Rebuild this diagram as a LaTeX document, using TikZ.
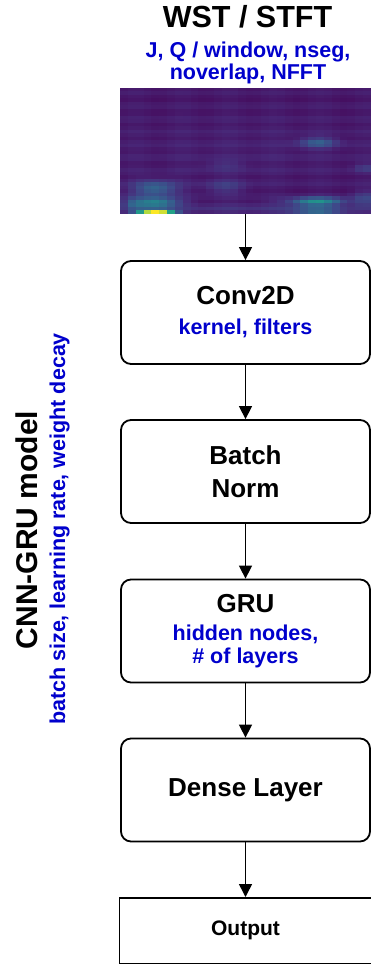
\documentclass[tikz,border=0pt]{standalone}
\usepackage{fontspec}
\setmainfont{Liberation Sans}
\usetikzlibrary{arrows.meta}
\definecolor{parblue}{RGB}{0,0,204}

% one Gaussian term of the spectrogram intensity, evaluated at (\cx,\cy)
\newcommand\specblob[5]{+#5*exp(max(-9,-((\cx-#1)/#3)*((\cx-#1)/#3)-((\cy-#2)/#4)*((\cy-#2)/#4)))}

% viridis colour map: sets colour "cellc" for a value in [0,1]
\newcommand\setviridis[1]{%
  \pgfmathsetmacro\vt{min(max(#1,0),0.999)*8}%
  \pgfmathtruncatemacro\vi{\vt}%
  \pgfmathtruncatemacro\vj{\vi+1}%
  \pgfmathsetmacro\vf{\vt-\vi}%
  \pgfmathsetmacro\ra{{68,72,62,49,38,31,53,110,253}[\vi]}%
  \pgfmathsetmacro\rb{{68,72,62,49,38,31,53,110,253}[\vj]}%
  \pgfmathsetmacro\ga{{1,40,73,104,130,158,183,206,231}[\vi]}%
  \pgfmathsetmacro\gbb{{1,40,73,104,130,158,183,206,231}[\vj]}%
  \pgfmathsetmacro\ba{{84,120,137,142,142,137,121,88,37}[\vi]}%
  \pgfmathsetmacro\bb{{84,120,137,142,142,137,121,88,37}[\vj]}%
  \pgfmathsetmacro\vr{(\ra*(1-\vf)+\rb*\vf)/255}%
  \pgfmathsetmacro\vg{(\ga*(1-\vf)+\gbb*\vf)/255}%
  \pgfmathsetmacro\vb{(\ba*(1-\vf)+\bb*\vf)/255}%
  \definecolor{cellc}{rgb}{\vr,\vg,\vb}%
}

\begin{document}
\begin{tikzpicture}[x=1pt,y=-1pt,
  layerbox/.style={draw, line width=1.8pt, rounded corners=10pt, inner sep=0pt,
    minimum width=249pt, minimum height=103pt, align=center},
  outbox/.style={draw, line width=1.5pt, inner sep=0pt,
    minimum width=252pt, minimum height=65.5pt},
  flow/.style={line width=1.5pt, -{Triangle[width=13pt,length=13pt]}},
  bigfont/.style={font=\bfseries\fontsize{26}{30}\selectfont},
  parfont/.style={font=\bfseries\fontsize{21.5}{23}\selectfont},
]
\useasboundingbox (0,0) rectangle (371,965);

% spectrogram image (viridis heat map)
\foreach \i in {0,...,31}{
  \foreach \j in {0,...,35}{
    \pgfmathsetmacro\cx{120+(\i+0.5)*251/32}
    \pgfmathsetmacro\cy{88+(\j+0.5)*3.5}
    \pgfmathsetmacro\val{0.07+0.02*sin(\j*97)+0.012*sin(\i*61)
      \specblob{148}{212}{12}{2.2}{0.72}
      \specblob{164}{212}{12}{2.2}{0.72}
      \specblob{155}{203}{22}{5}{0.45}
      \specblob{155}{189}{22}{8}{0.3}
      \specblob{133}{205}{10}{7}{0.15}
      \specblob{317}{202}{26}{4}{0.5}
      \specblob{317}{211}{26}{3}{0.3}
      \specblob{318}{143}{18}{5}{0.24}
      \specblob{225}{187}{20}{7}{0.12}
      \specblob{225}{166}{20}{5}{0.07}
      \specblob{365}{168}{10}{4}{0.12}
      \specblob{365}{200}{12}{8}{0.15}
      \specblob{245}{208}{120}{5}{0.08}
      \specblob{245}{150}{150}{40}{0.03}}
    \setviridis{\val}
    \fill[cellc] ({120+\i*251/32},{88+\j*3.5}) rectangle ({120+(\i+1)*251/32+0.4},{88+(\j+1)*3.5+0.4});
  }
}
\node[minimum width=251pt, minimum height=126pt, inner sep=0pt] (spec) at (245.5,151) {};

% input transform title and its parameters
\node[anchor=base, font=\bfseries\fontsize{30.5}{34}\selectfont] (title) at (247.5,28) {WST / STFT};
\node[anchor=base, parfont, text=parblue] (tpar1) at (248,58) {J, Q / window, nseg,};
\node[anchor=base, parfont, text=parblue] (tpar2) at (248,80) {noverlap, NFFT};

% model label at the left
\node[anchor=base, rotate=90, font=\bfseries\fontsize{30}{34}\selectfont] (model) at (37,530) {CNN-GRU model};
\node[anchor=base, rotate=90, parfont, text=parblue] (mpar) at (65,529) {batch size, learning rate, weight decay};

% network layers
\node[layerbox, bigfont] (conv) at (245.5,312.5)
  {Conv2D\\{\color{parblue}\fontsize{21.5}{23}\selectfont kernel, filters}};
\node[layerbox, font=\bfseries\fontsize{26}{33}\selectfont] (bn) at (245.5,471.5) {Batch\\Norm};
\node[layerbox, parfont] (gru) at (245.5,631)
  {{\fontsize{26}{30}\selectfont GRU}\\[5pt]{\color{parblue}hidden nodes,}\\{\color{parblue}\# of layers}};
\node[layerbox, bigfont] (dense) at (245.5,790) {Dense Layer};
\node[outbox, font=\bfseries\fontsize{21}{24}\selectfont] (out) at (245.5,930.5) {Output};

% connectors
\draw[flow] (spec.south) -- (conv.north);
\draw[flow] (conv.south) -- (bn.north);
\draw[flow] (bn.south) -- (gru.north);
\draw[flow] (gru.south) -- (dense.north);
\draw[flow] (dense.south) -- (out.north);
\end{tikzpicture}
\end{document}
